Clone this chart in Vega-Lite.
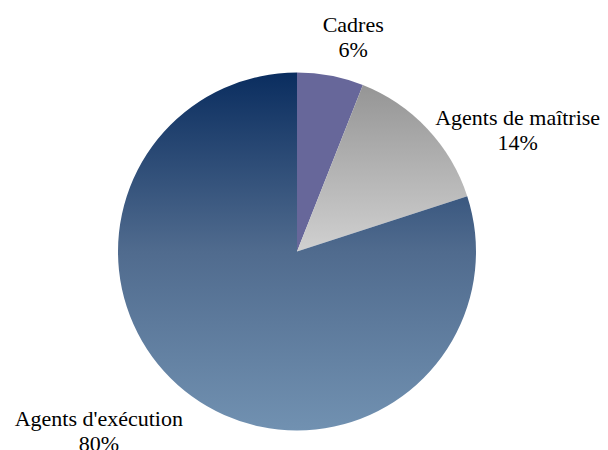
{
  "$schema": "https://vega.github.io/schema/vega-lite/v6.json",
  "autosize": "none",
  "width": 594,
  "height": 399,
  "padding": {"left": 0, "top": 52, "right": 14, "bottom": 0},
  "background": "white",
  "config": {"view": {"stroke": null}},
  "data": {
    "values": [
      {"cat": "Cadres", "value": 6, "label": "Cadres\n6%"},
      {"cat": "Agents de maîtrise", "value": 14, "label": "Agents de maîtrise\n14%"},
      {"cat": "Agents d'exécution", "value": 80, "label": "Agents d'exécution\n80%"}
    ]
  },
  "encoding": {
    "theta": {"field": "value", "type": "quantitative", "stack": true},
    "order": {"field": "value", "type": "quantitative", "sort": "ascending"}
  },
  "layer": [
    {
      "mark": {"type": "arc", "outerRadius": 179},
      "encoding": {
        "fill": {
          "condition": [
            {"test": "datum.cat === 'Cadres'", "value": "#67679a"},
            {"test": "datum.cat === 'Agents de maîtrise'", "value": {"gradient": "linear", "x1": 0, "y1": 0, "x2": 0, "y2": 1, "stops": [{"offset": 0, "color": "#959595"}, {"offset": 1, "color": "#d0d0d0"}]}}
          ],
          "value": {"gradient": "linear", "x1": 0, "y1": 0, "x2": 0, "y2": 1, "stops": [{"offset": 0, "color": "#0a2d5f"}, {"offset": 0.5, "color": "#506b8e"}, {"offset": 1, "color": "#7191b1"}]}
        }
      }
    },
    {
      "mark": {"type": "text", "radius": 220, "dx": 15, "dy": -10, "font": "Liberation Serif", "fontSize": 22, "lineBreak": "\n", "lineHeight": 25, "align": "center", "baseline": "middle", "color": "black"},
      "encoding": {
        "text": {"condition": {"test": "datum.cat === 'Cadres'", "field": "label"}, "value": ""}
      }
    },
    {
      "mark": {"type": "text", "radius": 230, "dx": 53, "dy": 24, "font": "Liberation Serif", "fontSize": 22, "lineBreak": "\n", "lineHeight": 25, "align": "center", "baseline": "middle", "color": "black"},
      "encoding": {
        "text": {"condition": {"test": "datum.cat === 'Agents de maîtrise'", "field": "label"}, "value": ""}
      }
    },
    {
      "mark": {"type": "text", "radius": 230, "dx": -63, "dy": -19, "font": "Liberation Serif", "fontSize": 22, "lineBreak": "\n", "lineHeight": 25, "align": "center", "baseline": "middle", "color": "black"},
      "encoding": {
        "text": {"condition": {"test": "datum.cat === \"Agents d'exécution\"", "field": "label"}, "value": ""}
      }
    }
  ]
}
